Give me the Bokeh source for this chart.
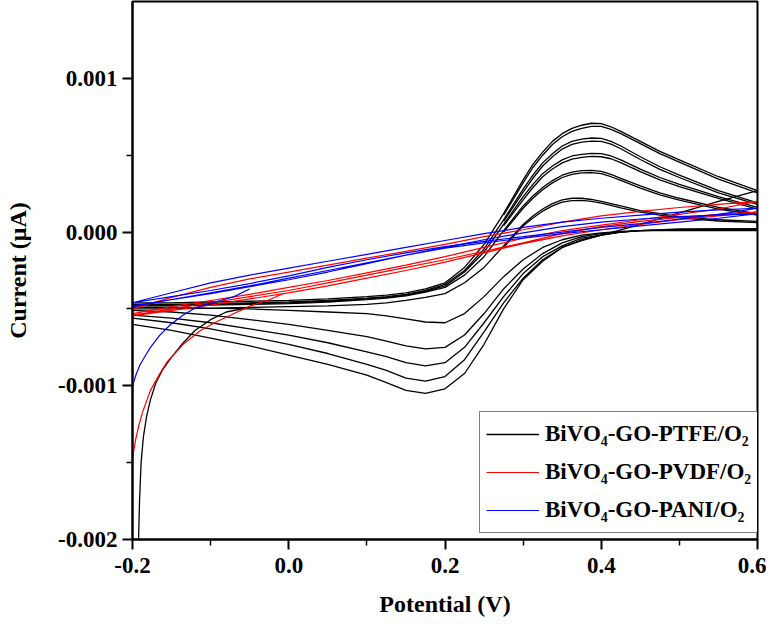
import numpy as np
from bokeh.plotting import figure
from bokeh.models import Range1d, FixedTicker, NumeralTickFormatter
from bokeh.embed import file_html
from bokeh.resources import INLINE

# ---------------- data (current in units of 1e-4 A) ----------------
# potentials of the forward (anodic) PTFE branches
E_UP = [-0.2, -0.15, -0.1, -0.05, 0.0, 0.05, 0.1, 0.125, 0.15, 0.175, 0.2, 0.225, 0.25,
        0.275, 0.3, 0.3125, 0.325, 0.3375, 0.35, 0.3625, 0.375, 0.3875, 0.4, 0.4125,
        0.425, 0.45, 0.475, 0.5, 0.55, 0.6]
PTFE_UP_1 = [-4.6, -4.6, -4.55, -4.5, -4.45, -4.35, -4.2, -4.1, -3.95, -3.7, -3.3, -2.3, -0.8,
             1.2, 3.4, 4.4, 5.2, 5.9, 6.4, 6.75, 6.95, 7.08, 7.05, 6.85,
             6.55, 5.9, 5.25, 4.7, 3.6, 2.7]
PTFE_UP_2 = [-4.7, -4.7, -4.65, -4.6, -4.55, -4.45, -4.3, -4.2, -4.05, -3.8, -3.4, -2.5, -1.1,
             0.8, 2.8, 3.7, 4.5, 5.1, 5.6, 5.9, 6.05, 6.12, 6.1, 5.9,
             5.6, 4.9, 4.25, 3.7, 2.7, 1.9]
PTFE_UP_3 = [-4.75, -4.75, -4.7, -4.65, -4.6, -4.5, -4.35, -4.25, -4.1, -3.85, -3.5, -2.6, -1.3,
             0.5, 2.3, 3.1, 3.8, 4.3, 4.7, 4.95, 5.05, 5.12, 5.1, 4.95,
             4.7, 4.1, 3.55, 3.1, 2.3, 1.6]
PTFE_UP_4 = [-4.8, -4.8, -4.75, -4.7, -4.65, -4.55, -4.4, -4.3, -4.15, -3.9, -3.6, -2.8, -1.6,
             0.1, 1.7, 2.35, 2.9, 3.35, 3.7, 3.9, 4.0, 4.02, 3.95, 3.75,
             3.5, 3.0, 2.55, 2.2, 1.6, 1.2]
PTFE_UP_5 = [-5.0, -5.0, -4.95, -4.9, -4.85, -4.8, -4.7, -4.6, -4.45, -4.25, -4.0, -3.3, -2.3,
             -0.9, 0.5, 1.05, 1.5, 1.85, 2.1, 2.2, 2.2, 2.12, 2.0, 1.85,
             1.7, 1.4, 1.2, 1.0, 0.8, 0.7]

# second-cycle traces of the anodic peaks (the doubled lines)
E_PEAK = [0.275, 0.3, 0.3125, 0.325, 0.3375, 0.35, 0.3625, 0.375, 0.3875, 0.4, 0.4125,
          0.425, 0.45, 0.475, 0.5, 0.55, 0.6]
PTFE_C2_1 = [1.1, 3.2, 4.2, 5.0, 5.7, 6.2, 6.55, 6.75, 6.88, 6.87, 6.68, 6.4, 5.75, 5.1, 4.55, 3.45, 2.55]
PTFE_C2_2 = [0.7, 2.6, 3.5, 4.3, 4.9, 5.4, 5.7, 5.85, 5.92, 5.9, 5.72, 5.42, 4.72, 4.08, 3.55, 2.55, 1.8]
PTFE_C2_3 = [0.4, 2.1, 2.9, 3.6, 4.1, 4.5, 4.75, 4.86, 4.92, 4.9, 4.77, 4.52, 3.93, 3.4, 2.95, 2.2, 1.5]
PTFE_C2_4 = [0.0, 1.55, 2.2, 2.75, 3.2, 3.55, 3.75, 3.85, 3.87, 3.8, 3.6, 3.36, 2.86, 2.42, 2.08, 1.5, 1.1]
PTFE_C2_5 = [-1.0, 0.4, 0.92, 1.36, 1.7, 1.95, 2.05, 2.06, 2.0, 1.88, 1.73, 1.58, 1.3, 1.1, 0.92, 0.72, 0.62]

# potentials of the reverse (cathodic) PTFE branches (listed ascending)
E_DN = [-0.2, -0.15, -0.1, -0.05, 0.0, 0.05, 0.1, 0.125, 0.15, 0.175, 0.2, 0.225,
        0.25, 0.275, 0.3, 0.325, 0.35, 0.375, 0.4, 0.425, 0.45, 0.5, 0.55, 0.6]
PTFE_DN_1 = [-6.0, -6.4, -6.9, -7.4, -8.0, -8.6, -9.3, -9.8, -10.3, -10.5, -10.2, -9.2,
             -7.3, -5.0, -3.1, -1.9, -1.0, -0.55, -0.2, 0.15, 0.5, 1.25, 2.0, 2.7]
PTFE_DN_2 = [-5.6, -5.9, -6.3, -6.8, -7.3, -7.9, -8.6, -9.0, -9.5, -9.7, -9.4, -8.3,
             -6.5, -4.6, -3.0, -1.8, -1.0, -0.5, -0.2, 0.0, 0.1, 0.2, 0.2, 0.2]
PTFE_DN_3 = [-5.4, -5.6, -5.9, -6.3, -6.7, -7.2, -7.8, -8.1, -8.5, -8.7, -8.5, -7.5,
             -5.9, -4.2, -2.7, -1.6, -0.9, -0.4, -0.2, 0.0, 0.1, 0.15, 0.2, 0.2]
PTFE_DN_4 = [-5.1, -5.2, -5.4, -5.7, -6.0, -6.4, -6.8, -7.1, -7.4, -7.6, -7.5, -6.7,
             -5.3, -3.7, -2.4, -1.4, -0.7, -0.3, -0.1, 0.0, 0.1, 0.15, 0.15, 0.15]
PTFE_DN_5 = [-4.9, -4.9, -4.95, -5.0, -5.1, -5.2, -5.3, -5.45, -5.65, -5.85, -5.9, -5.3,
             -4.2, -2.9, -1.8, -1.0, -0.5, -0.2, -0.05, 0.05, 0.1, 0.1, 0.1, 0.1]
# PTFE: start of the first scan
PTFE_START_E = [-0.1925, -0.191, -0.189, -0.186, -0.182, -0.177, -0.170, -0.162, -0.151,
                -0.135, -0.12, -0.1, -0.08, -0.05]
PTFE_START_I = [-20.5, -17.5, -15.0, -13.3, -12.0, -10.9, -9.8, -9.0, -8.2,
                -7.2, -6.4, -5.7, -5.2, -4.9]

E_THIN = [-0.2, -0.15, -0.1, -0.05, 0.0, 0.05, 0.1, 0.15, 0.2, 0.25, 0.3, 0.35, 0.4,
          0.45, 0.5, 0.55, 0.6]
PVDF_UP_1 = [-5.0, -4.25, -3.6, -3.05, -2.6, -2.15, -1.7, -1.25, -0.8, -0.3, 0.15, 0.65,
             1.05, 1.35, 1.6, 1.8, 2.0]
PVDF_DN_1 = [-5.3, -4.85, -4.45, -4.05, -3.6, -3.15, -2.65, -2.15, -1.6, -1.0, -0.4, 0.1,
             0.45, 0.8, 1.15, 1.5, 2.0]
PVDF_UP_2 = [-5.4, -5.0, -4.6, -4.2, -3.8, -3.3, -2.8, -2.3, -1.8, -1.25, -0.7, -0.1,
             0.35, 0.7, 0.95, 1.15, 1.3]
PVDF_DN_2 = [-5.45, -5.1, -4.75, -4.35, -3.95, -3.5, -3.0, -2.5, -1.95, -1.35, -0.75, -0.25,
             0.15, 0.5, 0.8, 1.05, 1.3]
PVDF_START_E = [-0.2, -0.196, -0.192, -0.187, -0.182, -0.177, -0.165, -0.155, -0.135,
                -0.113, -0.091, -0.07, -0.049, -0.025, -0.007]
PVDF_START_I = [-14.7, -13.5, -12.6, -11.7, -11.0, -10.3, -9.2, -8.4, -7.3,
                -6.4, -5.8, -5.3, -4.8, -4.4, -4.0]

PANI_UP_1 = [-4.6, -3.95, -3.3, -2.8, -2.35, -1.9, -1.45, -1.0, -0.55, -0.1, 0.3, 0.65,
             0.9, 1.1, 1.3, 1.45, 1.55]
PANI_DN_1 = [-4.6, -4.2, -3.8, -3.35, -2.85, -2.3, -1.8, -1.35, -0.95, -0.6, -0.3, 0.0,
             0.3, 0.55, 0.85, 1.15, 1.55]
PANI_UP_2 = [-4.8, -4.4, -4.0, -3.55, -3.1, -2.6, -2.05, -1.5, -1.0, -0.5, -0.05, 0.35,
             0.65, 0.85, 1.0, 1.1, 1.2]
PANI_DN_2 = [-4.85, -4.4, -3.95, -3.5, -3.0, -2.5, -2.0, -1.5, -1.05, -0.7, -0.4, -0.1,
             0.15, 0.4, 0.65, 0.9, 1.2]
PANI_START_E = [-0.2, -0.195, -0.19, -0.183, -0.177, -0.165, -0.151, -0.135, -0.122,
                -0.105, -0.091, -0.07, -0.05]
PANI_START_I = [-10.0, -9.2, -8.6, -8.0, -7.5, -6.7, -6.0, -5.4, -5.0,
                -4.7, -4.5, -4.2, -3.7]

UNIT = 1e-4  # A per data unit

X_TICKS = [-0.2, 0.0, 0.2, 0.4, 0.6]
X_MINOR = [-0.1, 0.1, 0.3, 0.5]
Y_TICKS = [-0.002, -0.001, 0.0, 0.001]
Y_MINOR = [-0.0015, -0.0005, 0.0005]

LABELS = ["BiVO\u2084-GO-PTFE/O\u2082", "BiVO\u2084-GO-PVDF/O\u2082", "BiVO\u2084-GO-PANI/O\u2082"]
COLORS = ["#000000", "#ff0000", "#0000ff"]

FONT = "Liberation Serif"

# ---------------- figure ----------------
p = figure(width=766, height=620, output_backend="svg", toolbar_location=None,
           x_range=Range1d(-0.2, 0.6), y_range=Range1d(-0.002, 0.0015),
           min_border_left=132, min_border_right=9, min_border_top=1, min_border_bottom=81)
p.xgrid.visible = False
p.ygrid.visible = False
p.outline_line_color = "black"
p.outline_line_width = 2
p.background_fill_color = "white"


def scaled(vals):
    return (np.array(vals) * UNIT).tolist()


def loop(e_up, up, e_dn, dn):
    xs = list(e_up) + list(e_dn)[::-1]
    ys = scaled(list(up) + list(dn)[::-1])
    return xs, ys


ptfe = [(PTFE_UP_1, PTFE_DN_1, PTFE_C2_1), (PTFE_UP_2, PTFE_DN_2, PTFE_C2_2),
        (PTFE_UP_3, PTFE_DN_3, PTFE_C2_3), (PTFE_UP_4, PTFE_DN_4, PTFE_C2_4),
        (PTFE_UP_5, PTFE_DN_5, PTFE_C2_5)]

for i, (up, dn, c2) in enumerate(ptfe):
    xs, ys = loop(E_UP, up, E_DN, dn)
    kw = {"legend_label": LABELS[0]} if i == 0 else {}
    p.line(xs, ys, line_color=COLORS[0], line_width=1.3, **kw)
    p.line(E_PEAK, scaled(c2), line_color=COLORS[0], line_width=1.3)
p.line(PTFE_START_E, scaled(PTFE_START_I), line_color=COLORS[0], line_width=1.3)

thin_groups = [
    ([(PVDF_UP_1, PVDF_DN_1), (PVDF_UP_2, PVDF_DN_2)], PVDF_START_E, PVDF_START_I, COLORS[1], LABELS[1]),
    ([(PANI_UP_1, PANI_DN_1), (PANI_UP_2, PANI_DN_2)], PANI_START_E, PANI_START_I, COLORS[2], LABELS[2]),
]
for loops, se, si, color, label in thin_groups:
    for i, (up, dn) in enumerate(loops):
        xs, ys = loop(E_THIN, up, E_THIN, dn)
        kw = {"legend_label": label} if i == 0 else {}
        p.line(xs, ys, line_color=color, line_width=1.2, **kw)
    p.line(se, scaled(si), line_color=color, line_width=1.2)

# ---------------- axes ----------------
for ax in (p.xaxis[0], p.yaxis[0]):
    ax.axis_line_width = 2
    ax.major_tick_line_width = 2
    ax.minor_tick_line_width = 1.5
    ax.major_tick_in = 0
    ax.major_tick_out = 10
    ax.minor_tick_in = 0
    ax.minor_tick_out = 6
    ax.major_label_text_font = FONT
    ax.major_label_text_font_style = "bold"
    ax.major_label_text_font_size = "23px"
    ax.major_label_text_color = "black"
    ax.axis_label_text_font = FONT
    ax.axis_label_text_font_style = "bold"
    ax.axis_label_text_font_size = "24px"
    ax.axis_label_text_color = "black"

p.xaxis[0].ticker = FixedTicker(ticks=X_TICKS, minor_ticks=X_MINOR)
p.yaxis[0].ticker = FixedTicker(ticks=Y_TICKS, minor_ticks=Y_MINOR)
p.xaxis[0].formatter = NumeralTickFormatter(format="0.0")
p.yaxis[0].formatter = NumeralTickFormatter(format="0.000")
p.xaxis[0].axis_label = "Potential (V)"
p.yaxis[0].axis_label = "Current (\u03bcA)"
p.xaxis[0].major_label_standoff = 8
p.yaxis[0].major_label_standoff = 5
p.xaxis[0].axis_label_standoff = 15
p.yaxis[0].axis_label_standoff = 24

# ---------------- legend ----------------
lg = p.legend[0]
lg.location = (347, 6)
lg.label_text_font = FONT
lg.label_text_font_style = "bold"
lg.label_text_font_size = "23px"
lg.label_text_color = "black"
lg.glyph_width = 53
lg.glyph_height = 20
lg.label_height = 32
lg.spacing = 6
lg.padding = 6
lg.margin = 0
lg.label_standoff = 6
lg.border_line_color = "black"
lg.border_line_width = 1
lg.background_fill_color = "white"
lg.background_fill_alpha = 1.0

open("out.html", "w").write(file_html(p, INLINE))
